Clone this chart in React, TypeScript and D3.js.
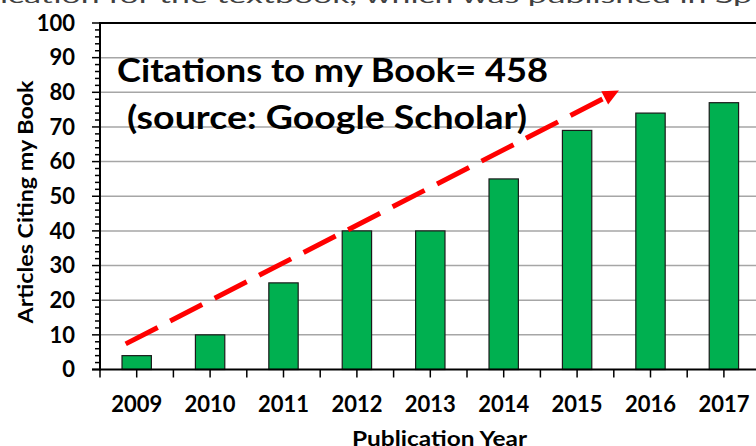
import * as d3 from "d3";

const years = ["2009", "2010", "2011", "2012", "2013", "2014", "2015", "2016", "2017"];
const citations = [4, 10, 25, 40, 40, 55, 69, 74, 77];
const yTicks = [0, 10, 20, 30, 40, 50, 60, 70, 80, 90, 100];
const titleLines = ["Citations to my Book= 458", "(source: Google Scholar)"];
// trend arrow, in (category index, citations)
const arrowFrom = [-0.15, 7.4];
const arrowTo = [6.57, 80.5];
const topNote = "ication for the textbook, which was published in Sp";

const width = 756;
const height = 446;
const marginLeft = 100;
const plotRight = 760.6;
const plotTop = 23;
const plotBottom = 369.5;
const font = "Lato, 'Open Sans', sans-serif";

export default function App() {
  const x = d3
    .scaleBand()
    .domain(years)
    .range([marginLeft, plotRight])
    .paddingInner(0.6)
    .paddingOuter(0.3);

  const xi = d3
    .scaleLinear()
    .domain([-0.5, years.length - 0.5])
    .range([marginLeft, plotRight]);

  const y = d3.scaleLinear().domain([0, 100]).range([plotBottom, plotTop]);

  const minorY = d3.range(0, 101, 2);
  const xTicks = d3.range(-0.5, years.length - 0.49, 0.5);

  // arrow geometry
  const x0 = xi(arrowFrom[0]);
  const y0 = y(arrowFrom[1]);
  const x1 = xi(arrowTo[0]);
  const y1 = y(arrowTo[1]);
  const len = Math.hypot(x1 - x0, y1 - y0);
  const ux = (x1 - x0) / len;
  const uy = (y1 - y0) / len;
  const headLen = 16;
  const headHalf = 7.5;
  const bx = x1 - ux * headLen;
  const by = y1 - uy * headLen;
  const head = [
    [x1, y1],
    [bx - uy * headHalf, by + ux * headHalf],
    [bx + uy * headHalf, by - ux * headHalf],
  ]
    .map((p) => p.join(","))
    .join(" ");

  return (
    <svg
      width={width}
      height={height}
      style={{ position: "absolute", left: 0, top: 0, background: "#fff" }}
      fontFamily={font}
    >
      <text x={0} y={3} fontSize={20} fill="#404040" textLength={752} lengthAdjust="spacingAndGlyphs">
        {topNote}
      </text>

      {/* gridlines */}
      {yTicks
        .filter((v) => v > 0 && v < 100)
        .map((v) => (
          <line key={v} x1={marginLeft} x2={width} y1={y(v)} y2={y(v)} stroke="#a6a6a6" strokeWidth={1.5} />
        ))}
      <line x1={marginLeft} x2={width} y1={y(100)} y2={y(100)} stroke="#000" strokeWidth={2.2} />

      {/* bars */}
      {years.map((yr, i) => (
        <rect
          key={yr}
          x={x(yr)}
          y={y(citations[i])}
          width={x.bandwidth()}
          height={plotBottom - y(citations[i])}
          fill="#00b050"
          stroke="#1a1a1a"
          strokeWidth={1.2}
        />
      ))}

      {/* y axis */}
      <line x1={marginLeft} x2={marginLeft} y1={plotTop - 1} y2={plotBottom + 1} stroke="#000" strokeWidth={2} />
      {minorY.map((v) => (
        <line
          key={v}
          x1={v % 10 === 0 ? marginLeft - 8 : marginLeft - 5}
          x2={marginLeft}
          y1={y(v)}
          y2={y(v)}
          stroke="#000"
          strokeWidth={1.5}
        />
      ))}
      {yTicks.map((v) => (
        <text key={v} x={75} y={y(v) + 7.8} textAnchor="end" fontSize={22} fontWeight="bold" fill="#000">
          {v}
        </text>
      ))}

      {/* x axis */}
      <line x1={marginLeft - 8} x2={width} y1={plotBottom} y2={plotBottom} stroke="#000" strokeWidth={2} />
      {xTicks.map((t) => (
        <line key={t} x1={xi(t)} x2={xi(t)} y1={plotBottom} y2={plotBottom + 8} stroke="#000" strokeWidth={1.5} />
      ))}
      {years.map((yr) => (
        <text
          key={yr}
          x={(x(yr) ?? 0) + x.bandwidth() / 2}
          y={411.5}
          textAnchor="middle"
          fontSize={22}
          fontWeight="bold"
          fill="#000"
        >
          {yr}
        </text>
      ))}

      {/* axis titles */}
      <text
        x={439.5}
        y={445.5}
        textAnchor="middle"
        fontSize={20}
        fontWeight="bold"
        textLength={175}
        lengthAdjust="spacingAndGlyphs"
      >
        Publication Year
      </text>
      <text
        transform="translate(33,202) rotate(-90)"
        textAnchor="middle"
        fontSize={21}
        fontWeight="bold"
        textLength={243}
        lengthAdjust="spacingAndGlyphs"
      >
        Articles Citing my Book
      </text>

      {/* trend arrow */}
      <line
        x1={x0}
        y1={y0}
        x2={bx + ux * 2}
        y2={by + uy * 2}
        stroke="#ff0000"
        strokeWidth={5}
        strokeDasharray="36 14"
      />
      <polygon points={head} fill="#ff0000" />

      {/* annotation */}
      <text x={117} y={82} fontSize={33} fontWeight="bold" textLength={431} lengthAdjust="spacingAndGlyphs">
        {titleLines[0]}
      </text>
      <text x={127} y={129} fontSize={33} fontWeight="bold" textLength={400} lengthAdjust="spacingAndGlyphs">
        {titleLines[1]}
      </text>
    </svg>
  );
}
